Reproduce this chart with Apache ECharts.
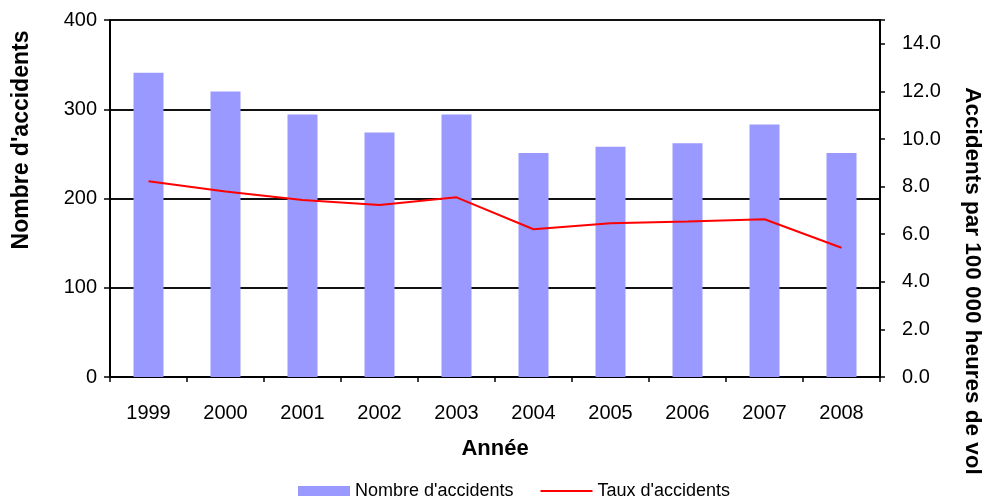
<!DOCTYPE html>
<html><head><meta charset="utf-8">
<script src="https://cdn.jsdelivr.net/npm/echarts@6/dist/echarts.min.js"></script>
<style>html,body{margin:0;padding:0;background:#fff}#c{width:982px;height:498px}</style>
</head><body><div id="c"></div>
<script>
const years = ['1999','2000','2001','2002','2003','2004','2005','2006','2007','2008'];
const accidents = [341, 320, 294, 274, 294, 251, 258, 262, 283, 251];
const taux = [8.22, 7.79, 7.44, 7.23, 7.55, 6.21, 6.46, 6.53, 6.63, 5.43];
const leftTicks = {min: 0, max: 400, interval: 100};
const rightTicks = {min: 0, max: 15, interval: 2};
const leftTitle = "Nombre d'accidents";
const rightTitle = 'Accidents par 100 000 heures de vol';

const font = 'Liberation Sans, Arial, sans-serif';
const chart = echarts.init(document.getElementById('c'));
chart.setOption({
  animation: false,
  textStyle: {fontFamily: font},
  grid: {left: 110, right: 102, top: 20, bottom: 121, containLabel: false, outerBoundsMode: 'none'},
  legend: {
    bottom: -7, left: 293, itemWidth: 52, itemHeight: 10, itemGap: 26,
    textStyle: {fontFamily: font, fontSize: 18, color: '#000'},
    data: [
      {name: "Nombre d'accidents", icon: 'rect'},
      {name: "Taux d'accidents", itemStyle: {opacity: 0}}
    ]
  },
  graphic: [{
    type: 'text', x: 22, y: 140, rotation: Math.PI / 2,
    style: {text: leftTitle, font: 'bold 23px ' + font, fill: '#000',
      textAlign: 'center', textVerticalAlign: 'middle'}
  }, {
    type: 'text', x: 972, y: 281, rotation: -Math.PI / 2,
    style: {text: rightTitle, font: 'bold 22.5px ' + font, fill: '#000',
      textAlign: 'center', textVerticalAlign: 'middle'}
  }],
  xAxis: {
    type: 'category', data: years,
    name: 'Année', nameLocation: 'middle', nameGap: 61,
    nameTextStyle: {fontFamily: font, fontSize: 22, fontWeight: 'bold', color: '#000'},
    axisLine: {lineStyle: {color: '#000', width: 2}},
    axisTick: {show: true, length: 5, lineStyle: {color: '#000', width: 1.5}},
    axisLabel: {color: '#000', fontSize: 20, fontFamily: font, margin: 26}
  },
  yAxis: [{
    type: 'value', min: leftTicks.min, max: leftTicks.max, interval: leftTicks.interval,
    axisLine: {show: true, lineStyle: {color: '#000', width: 2}},
    axisTick: {show: true, length: 6, lineStyle: {color: '#000', width: 1.5}},
    axisLabel: {color: '#000', fontSize: 20, fontFamily: font, margin: 13},
    splitLine: {show: true, lineStyle: {color: '#111', width: 2}}
  }, {
    type: 'value', min: rightTicks.min, max: rightTicks.max, interval: rightTicks.interval,
    position: 'right',
    axisLine: {show: true, lineStyle: {color: '#000', width: 2}},
    axisTick: {show: true, length: 5, lineStyle: {color: '#000', width: 1.5}},
    axisLabel: {color: '#000', fontSize: 20, fontFamily: font, margin: 22,
      formatter: v => (v % 2 === 0 ? v.toFixed(1) : '')},
    splitLine: {show: false}
  }],
  series: [{
    name: "Nombre d'accidents", type: 'bar', data: accidents, barWidth: 30,
    itemStyle: {color: '#9999FF'}
  }, {
    name: "Taux d'accidents", type: 'line', yAxisIndex: 1, data: taux,
    symbol: 'none', lineStyle: {color: '#FF0000', width: 2}, itemStyle: {color: '#FF0000'}
  }]
});
</script></body></html>
